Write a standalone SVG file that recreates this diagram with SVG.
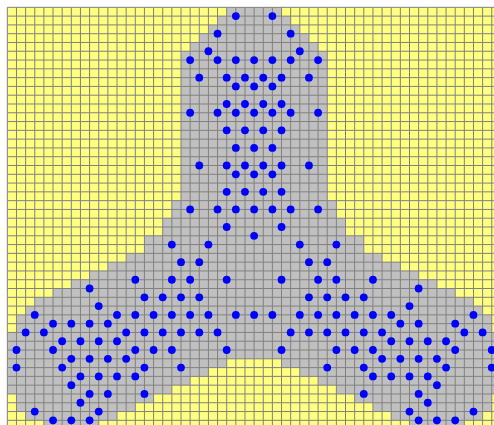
<svg xmlns="http://www.w3.org/2000/svg" xmlns:xlink="http://www.w3.org/1999/xlink" width="494" height="425" viewBox="0 0 494 425">
<style>
.bg{fill:#ffffff}
.sand{fill:#ffff80}
.cell{fill:#c0c0c0}
.grid{fill:none;stroke:#808080;stroke-width:1;vector-effect:non-scaling-stroke}
.dot{fill:#0000ff}
</style>
<defs>
<ellipse id="d" class="dot" cx="0" cy="0" rx="0.427" ry="0.444"/>
</defs>
<rect class="bg" x="0" y="0" width="494" height="425"/>
<g id="lattice" transform="translate(7.33 7.33) scale(9.14 8.787)">
<rect id="field" class="sand" x="0" y="0" width="55" height="49"/>
<g id="region" class="cell">
<rect x="24" y="0" width="6" height="1"/>
<rect x="23" y="1" width="8" height="1"/>
<rect x="22" y="2" width="10" height="1"/>
<rect x="21" y="3" width="12" height="1"/>
<rect x="20" y="4" width="14" height="1"/>
<rect x="19" y="5" width="16" height="17"/>
<rect x="18" y="22" width="18" height="2"/>
<rect x="17" y="24" width="20" height="2"/>
<rect x="15" y="26" width="24" height="2"/>
<rect x="13" y="28" width="28" height="1"/>
<rect x="11" y="29" width="32" height="1"/>
<rect x="9" y="30" width="36" height="1"/>
<rect x="7" y="31" width="40" height="1"/>
<rect x="5" y="32" width="44" height="1"/>
<rect x="3" y="33" width="48" height="1"/>
<rect x="2" y="34" width="50" height="1"/>
<rect x="1" y="35" width="52" height="2"/>
<rect x="0" y="37" width="55" height="3"/>
<rect x="0" y="40" width="24" height="1"/><rect x="30" y="40" width="25" height="1"/>
<rect x="0" y="41" width="22" height="1"/><rect x="32" y="41" width="23" height="1"/>
<rect x="0" y="42" width="20" height="1"/><rect x="34" y="42" width="21" height="1"/>
<rect x="0" y="43" width="18" height="1"/><rect x="36" y="43" width="19" height="1"/>
<rect x="1" y="44" width="15" height="1"/><rect x="38" y="44" width="15" height="1"/>
<rect x="1" y="45" width="13" height="1"/><rect x="40" y="45" width="13" height="1"/>
<rect x="2" y="46" width="10" height="1"/><rect x="42" y="46" width="10" height="1"/>
<rect x="4" y="47" width="6" height="2"/><rect x="44" y="47" width="6" height="2"/>
</g>
<path id="gridlines" class="grid" d="M0 0V49M1 0V49M2 0V49M3 0V49M4 0V49M5 0V49M6 0V49M7 0V49M8 0V49M9 0V49M10 0V49M11 0V49M12 0V49M13 0V49M14 0V49M15 0V49M16 0V49M17 0V49M18 0V49M19 0V49M20 0V49M21 0V49M22 0V49M23 0V49M24 0V49M25 0V49M26 0V49M27 0V49M28 0V49M29 0V49M30 0V49M31 0V49M32 0V49M33 0V49M34 0V49M35 0V49M36 0V49M37 0V49M38 0V49M39 0V49M40 0V49M41 0V49M42 0V49M43 0V49M44 0V49M45 0V49M46 0V49M47 0V49M48 0V49M49 0V49M50 0V49M51 0V49M52 0V49M53 0V49M54 0V49M0 0H55M0 1H55M0 2H55M0 3H55M0 4H55M0 5H55M0 6H55M0 7H55M0 8H55M0 9H55M0 10H55M0 11H55M0 12H55M0 13H55M0 14H55M0 15H55M0 16H55M0 17H55M0 18H55M0 19H55M0 20H55M0 21H55M0 22H55M0 23H55M0 24H55M0 25H55M0 26H55M0 27H55M0 28H55M0 29H55M0 30H55M0 31H55M0 32H55M0 33H55M0 34H55M0 35H55M0 36H55M0 37H55M0 38H55M0 39H55M0 40H55M0 41H55M0 42H55M0 43H55M0 44H55M0 45H55M0 46H55M0 47H55M0 48H55"/>
<g id="particles">
<use href="#d" x="25" y="1"/><use href="#d" x="29" y="1"/>
<use href="#d" x="23" y="3"/><use href="#d" x="31" y="3"/>
<use href="#d" x="22" y="5"/><use href="#d" x="32" y="5"/>
<use href="#d" x="20" y="6"/><use href="#d" x="23" y="6"/><use href="#d" x="25" y="6"/><use href="#d" x="27" y="6"/><use href="#d" x="29" y="6"/><use href="#d" x="31" y="6"/><use href="#d" x="34" y="6"/>
<use href="#d" x="21" y="8"/><use href="#d" x="24" y="8"/><use href="#d" x="26" y="8"/><use href="#d" x="28" y="8"/><use href="#d" x="30" y="8"/><use href="#d" x="33" y="8"/>
<use href="#d" x="25" y="9"/><use href="#d" x="27" y="9"/><use href="#d" x="29" y="9"/>
<use href="#d" x="24" y="11"/><use href="#d" x="26" y="11"/><use href="#d" x="28" y="11"/><use href="#d" x="30" y="11"/>
<use href="#d" x="20" y="12"/><use href="#d" x="23" y="12"/><use href="#d" x="25" y="12"/><use href="#d" x="27" y="12"/><use href="#d" x="29" y="12"/><use href="#d" x="31" y="12"/><use href="#d" x="34" y="12"/>
<use href="#d" x="24" y="14"/><use href="#d" x="26" y="14"/><use href="#d" x="28" y="14"/><use href="#d" x="30" y="14"/>
<use href="#d" x="25" y="16"/><use href="#d" x="27" y="16"/><use href="#d" x="29" y="16"/>
<use href="#d" x="21" y="18"/><use href="#d" x="24" y="18"/><use href="#d" x="26" y="18"/><use href="#d" x="28" y="18"/><use href="#d" x="30" y="18"/><use href="#d" x="33" y="18"/>
<use href="#d" x="25" y="19"/><use href="#d" x="27" y="19"/><use href="#d" x="29" y="19"/>
<use href="#d" x="24" y="21"/><use href="#d" x="26" y="21"/><use href="#d" x="28" y="21"/><use href="#d" x="30" y="21"/>
<use href="#d" x="20" y="23"/><use href="#d" x="23" y="23"/><use href="#d" x="25" y="23"/><use href="#d" x="27" y="23"/><use href="#d" x="29" y="23"/><use href="#d" x="31" y="23"/><use href="#d" x="34" y="23"/>
<use href="#d" x="24" y="25"/><use href="#d" x="30" y="25"/>
<use href="#d" x="27" y="26"/>
<use href="#d" x="18" y="27"/><use href="#d" x="22" y="27"/><use href="#d" x="32" y="27"/><use href="#d" x="36" y="27"/>
<use href="#d" x="19" y="29"/><use href="#d" x="21" y="29"/><use href="#d" x="33" y="29"/><use href="#d" x="35" y="29"/>
<use href="#d" x="14" y="31"/><use href="#d" x="18" y="31"/><use href="#d" x="20" y="31"/><use href="#d" x="24" y="31"/><use href="#d" x="30" y="31"/><use href="#d" x="34" y="31"/><use href="#d" x="36" y="31"/><use href="#d" x="40" y="31"/>
<use href="#d" x="9" y="32"/><use href="#d" x="45" y="32"/>
<use href="#d" x="15" y="33"/><use href="#d" x="17" y="33"/><use href="#d" x="19" y="33"/><use href="#d" x="21" y="33"/><use href="#d" x="33" y="33"/><use href="#d" x="35" y="33"/><use href="#d" x="37" y="33"/><use href="#d" x="39" y="33"/>
<use href="#d" x="10" y="34"/><use href="#d" x="44" y="34"/>
<use href="#d" x="3" y="35"/><use href="#d" x="12" y="35"/><use href="#d" x="14" y="35"/><use href="#d" x="16" y="35"/><use href="#d" x="18" y="35"/><use href="#d" x="20" y="35"/><use href="#d" x="22" y="35"/><use href="#d" x="25" y="35"/><use href="#d" x="27" y="35"/><use href="#d" x="29" y="35"/><use href="#d" x="32" y="35"/><use href="#d" x="34" y="35"/><use href="#d" x="36" y="35"/><use href="#d" x="38" y="35"/><use href="#d" x="40" y="35"/><use href="#d" x="42" y="35"/><use href="#d" x="51" y="35"/>
<use href="#d" x="5" y="36"/><use href="#d" x="7" y="36"/><use href="#d" x="9" y="36"/><use href="#d" x="11" y="36"/><use href="#d" x="43" y="36"/><use href="#d" x="45" y="36"/><use href="#d" x="49" y="36"/>
<use href="#d" x="2" y="37"/><use href="#d" x="4" y="37"/><use href="#d" x="13" y="37"/><use href="#d" x="15" y="37"/><use href="#d" x="17" y="37"/><use href="#d" x="19" y="37"/><use href="#d" x="21" y="37"/><use href="#d" x="23" y="37"/><use href="#d" x="31" y="37"/><use href="#d" x="33" y="37"/><use href="#d" x="35" y="37"/><use href="#d" x="37" y="37"/><use href="#d" x="39" y="37"/><use href="#d" x="41" y="37"/><use href="#d" x="50" y="37"/><use href="#d" x="52" y="37"/>
<use href="#d" x="6" y="38"/><use href="#d" x="8" y="38"/><use href="#d" x="10" y="38"/><use href="#d" x="12" y="38"/><use href="#d" x="42" y="38"/><use href="#d" x="44" y="38"/><use href="#d" x="46" y="38"/><use href="#d" x="48" y="38"/>
<use href="#d" x="1" y="39"/><use href="#d" x="5" y="39"/><use href="#d" x="14" y="39"/><use href="#d" x="16" y="39"/><use href="#d" x="18" y="39"/><use href="#d" x="24" y="39"/><use href="#d" x="30" y="39"/><use href="#d" x="36" y="39"/><use href="#d" x="38" y="39"/><use href="#d" x="40" y="39"/><use href="#d" x="49" y="39"/><use href="#d" x="53" y="39"/>
<use href="#d" x="7" y="40"/><use href="#d" x="9" y="40"/><use href="#d" x="11" y="40"/><use href="#d" x="13" y="40"/><use href="#d" x="41" y="40"/><use href="#d" x="43" y="40"/><use href="#d" x="45" y="40"/><use href="#d" x="47" y="40"/>
<use href="#d" x="1" y="41"/><use href="#d" x="6" y="41"/><use href="#d" x="15" y="41"/><use href="#d" x="19" y="41"/><use href="#d" x="35" y="41"/><use href="#d" x="39" y="41"/><use href="#d" x="48" y="41"/><use href="#d" x="53" y="41"/>
<use href="#d" x="8" y="42"/><use href="#d" x="10" y="42"/><use href="#d" x="12" y="42"/><use href="#d" x="14" y="42"/><use href="#d" x="40" y="42"/><use href="#d" x="42" y="42"/><use href="#d" x="44" y="42"/><use href="#d" x="46" y="42"/>
<use href="#d" x="7" y="43"/><use href="#d" x="47" y="43"/>
<use href="#d" x="9" y="44"/><use href="#d" x="11" y="44"/><use href="#d" x="15" y="44"/><use href="#d" x="39" y="44"/><use href="#d" x="45" y="44"/>
<use href="#d" x="8" y="45"/><use href="#d" x="46" y="45"/>
<use href="#d" x="3" y="46"/><use href="#d" x="10" y="46"/><use href="#d" x="44" y="46"/><use href="#d" x="51" y="46"/>
<use href="#d" x="5" y="47"/><use href="#d" x="7" y="47"/><use href="#d" x="9" y="47"/><use href="#d" x="45" y="47"/><use href="#d" x="47" y="47"/><use href="#d" x="49" y="47"/>
</g>
</g>
</svg>
